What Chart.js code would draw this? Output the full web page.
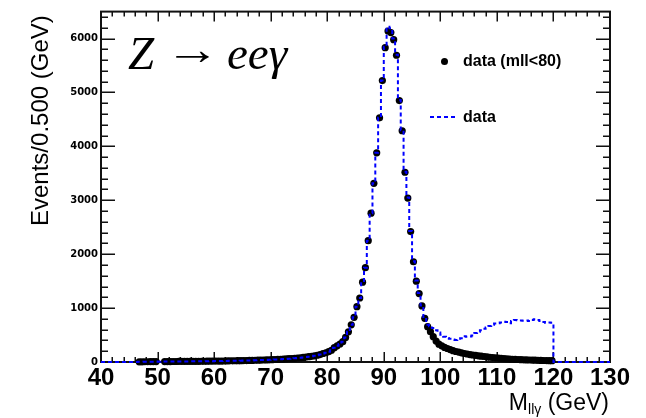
<!DOCTYPE html>
<html>
<head>
<meta charset="utf-8">
<script src="https://cdn.jsdelivr.net/npm/chart.js@4.4.1/dist/chart.umd.min.js"></script>
<style>
  html, body { margin: 0; padding: 0; background: #fff; }
  #wrap { position: relative; width: 646px; height: 418px; overflow: hidden; background: #fff; }
  #c { position: absolute; left: 0; top: 0; }
  .lbl { position: absolute; white-space: nowrap; color: #000; font-family: "Liberation Sans", Arial, sans-serif; }
  #ytitle { left: 28px; top: 226px; font-size: 24px; line-height: 24px; transform-origin: 0 0; transform: rotate(-90deg); }
  #xtitle { right: 37px; top: 391px; font-size: 23px; line-height: 22px; }
  #xtitle sub { font-size: 14px; line-height: 0; vertical-align: -4px; }
  .proc { position: absolute; top: 31px; font-family: "Liberation Serif", "DejaVu Serif", serif; font-size: 47px; line-height: 44px; color: #000; white-space: nowrap; }
  .proc.it { font-style: italic; }
  .proc.arr { font-size: 44px; top: 28px; transform-origin: 0 50%; transform: scaleX(1.25); }
  .legtxt { font-size: 16px; line-height: 16px; font-weight: bold; }
  #legdot { position: absolute; left: 440.5px; top: 57.5px; width: 7px; height: 7px; border-radius: 50%; background: #000; }
  #legline { position: absolute; left: 430px; top: 116px; width: 27px; height: 2px;
             background: repeating-linear-gradient(90deg, #0000ff 0 4px, transparent 4px 7px); }
</style>
</head>
<body>
<div id="wrap">
  <canvas id="c" width="646" height="418"></canvas>
  <div class="lbl" id="ytitle">Events/0.500 (GeV)</div>
  <div class="lbl" id="xtitle">M<sub>llγ</sub> (GeV)</div>
  <div class="proc it" style="left:128px;">Z</div>
  <div class="proc arr" style="left:165px;">→</div>
  <div class="proc it" style="left:227px;">eeγ</div>
  <div id="legdot"></div>
  <div class="lbl legtxt" style="left:463px; top:53px;">data (mll&lt;80)</div>
  <div id="legline"></div>
  <div class="lbl legtxt" style="left:463px; top:109px;">data</div>
</div>
<script>
// Histogram binning: 0.5 GeV bins from 40 to 130 GeV
const massMin = 40;
const massMax = 130;
const binWidth = 0.5;

// Events per bin, selection with m_ll < 80 GeV (null = empty bin, not drawn)
const eventsMll80 = [
  // 40.0 - 46.5
  null, null, null, null, null, null, null, null, null, null, null, null, null,
  // 46.5 - 50.0
  4, 4, 5, 5, 6, 6, 7,
  // 50.0 - 51.0
  null, null,
  // 51 - 60
  7, 8, 8, 9, 9, 10, 10, 11, 11, 12, 12, 13, 13, 14, 14, 15, 16, 16,
  // 60 - 70
  17, 18, 18, 19, 20, 21, 22, 23, 24, 25, 26, 27, 29, 30, 32, 33, 35, 37, 39, 41,
  // 70 - 80
  43, 46, 48, 51, 54, 57, 61, 65, 69, 74, 79, 85, 91, 98, 106, 115, 125, 137, 158, 172,
  // 80 - 90
  192, 218, 265, 300, 334, 377, 455, 560, 690, 829, 1026, 1187, 1480, 1750, 2250, 2760, 3315, 3880, 4530, 5220,
  // 90 - 100
  5830, 6140, 6110, 5980, 5690, 4850, 4290, 3520, 3040, 2420, 1860, 1500, 1270, 1040, 811, 655, 562, 470, 390, 330,
  // 100 - 110
  300, 270, 250, 230, 210, 195, 185, 170, 158, 148, 138, 130, 122, 115, 108, 102, 95, 88, 82, 77,
  // 110 - 120
  72, 67, 63, 59, 55, 51, 48, 46, 43, 41, 39, 37, 35, 33, 31, 30, 28, 27, 25, 24,
  // 120 - 130
  null, null, null, null, null, null, null, null, null, null,
  null, null, null, null, null, null, null, null, null, null
];

// Events per bin, full selection
const eventsAll = [
  // 40.0 - 46.5
  0, 0, 0, 0, 0, 0, 0, 0, 0, 0, 0, 0, 0,
  // 46.5 - 50.0
  4, 4, 5, 5, 6, 6, 7,
  // 50.0 - 51.0
  6, 7,
  // 51 - 60
  7, 8, 8, 9, 9, 10, 10, 11, 11, 12, 12, 13, 13, 14, 14, 15, 16, 16,
  // 60 - 70
  17, 18, 18, 19, 20, 21, 22, 23, 24, 25, 26, 27, 29, 30, 32, 33, 35, 37, 39, 41,
  // 70 - 80
  43, 46, 48, 51, 54, 57, 61, 65, 69, 74, 79, 85, 91, 98, 106, 115, 125, 137, 158, 172,
  // 80 - 90
  192, 218, 265, 300, 334, 377, 455, 560, 690, 829, 1026, 1187, 1480, 1750, 2250, 2760, 3315, 3880, 4530, 5220,
  // 90 - 100
  5850, 6220, 6190, 6000, 5700, 4860, 4300, 3530, 3050, 2430, 1870, 1510, 1280, 1050, 815, 690, 665, 630, 590, 545,
  // 100 - 110
  505, 470, 445, 430, 418, 410, 412, 440, 478, 470, 474, 490, 540, 560, 590, 615, 642, 668, 690, 712,
  // 110 - 120
  720, 735, 748, 742, 718, 760, 779, 775, 770, 766, 770, 760, 780, 792, 780, 760, 740, 729, 735, 729,
  // 120 - 130
  0, 0, 0, 0, 0, 0, 0, 0, 0, 0,
  0, 0, 0, 0, 0, 0, 0, 0, 0, 0
];

// Axis ticks
const xMajorTicks = [40, 50, 60, 70, 80, 90, 100, 110, 120, 130];
const xMinorStep = 2;
const yMajorTicks = [0, 1000, 2000, 3000, 4000, 5000, 6000];
const yMinorStep = 200;
const yMax = 6500;

// Points for the step outline: one point per lower bin edge plus the closing edge
const stepPoints = eventsAll.map((v, i) => ({ x: massMin + i * binWidth, y: v }));
stepPoints.push({ x: massMax, y: eventsAll[eventsAll.length - 1] });

// Markers at bin centres
const markerPoints = [];
eventsMll80.forEach((v, i) => {
  if (v !== null) markerPoints.push({ x: massMin + (i + 0.5) * binWidth, y: v });
});

// Frame with inward ticks on all four sides, drawn beneath the data
const framePlugin = {
  id: 'frame',
  beforeDatasetsDraw(chart) {
    const { ctx, chartArea: a, scales: { x, y } } = chart;
    ctx.save();
    ctx.strokeStyle = '#111';
    ctx.lineWidth = 1.5;
    ctx.beginPath();
    for (let v = massMin; v <= massMax; v += xMinorStep) {
      const px = Math.round(x.getPixelForValue(v)) + 0.25;
      const len = xMajorTicks.includes(v) ? 10 : 5;
      ctx.moveTo(px, a.bottom); ctx.lineTo(px, a.bottom - len);
      ctx.moveTo(px, a.top); ctx.lineTo(px, a.top + len);
    }
    for (let v = 0; v <= yMax; v += yMinorStep) {
      const py = Math.round(y.getPixelForValue(v)) + 0.25;
      const len = yMajorTicks.includes(v) ? 14 : 7;
      ctx.moveTo(a.left, py); ctx.lineTo(a.left + len, py);
      ctx.moveTo(a.right, py); ctx.lineTo(a.right - len, py);
    }
    ctx.stroke();
    ctx.lineWidth = 2;
    ctx.strokeStyle = '#111';
    ctx.strokeRect(a.left, a.top, a.right - a.left, a.bottom - a.top);
    ctx.restore();
  }
};

new Chart(document.getElementById('c'), {
  type: 'scatter',
  data: {
    datasets: [
      {
        label: 'data',
        data: stepPoints,
        showLine: true,
        stepped: 'before',
        borderColor: '#0000ff',
        borderWidth: 2,
        borderDash: [4, 3],
        pointRadius: 0,
        fill: false,
        clip: 2,
        order: 0
      },
      {
        label: 'data (mll<80)',
        data: markerPoints,
        showLine: false,
        pointRadius: 3.6,
        pointBackgroundColor: '#000',
        pointBorderWidth: 0,
        clip: false,
        order: 1
      }
    ]
  },
  options: {
    responsive: false,
    animation: false,
    devicePixelRatio: 1,
    layout: { padding: { top: 11.6, right: 36, left: 0, bottom: 0 } },
    plugins: { legend: { display: false }, tooltip: { enabled: false } },
    events: [],
    scales: {
      x: {
        type: 'linear',
        min: massMin,
        max: massMax,
        afterBuildTicks(s) { s.ticks = xMajorTicks.map(v => ({ value: v })); },
        ticks: {
          color: '#000',
          font: { family: 'Liberation Sans', weight: 'bold', size: 24 },
          padding: 2,
          maxRotation: 0,
          autoSkip: false,
          callback: v => String(v)
        },
        grid: { display: false, drawTicks: false },
        border: { display: false },
        afterFit(s) { s.height = 56; }
      },
      y: {
        min: 0,
        max: yMax,
        afterBuildTicks(s) { s.ticks = yMajorTicks.map(v => ({ value: v })); },
        ticks: {
          color: '#000',
          font: { family: 'DejaVu Sans', weight: 'bold', size: 10 },
          padding: 3,
          callback: v => String(v)
        },
        grid: { display: false, drawTicks: false },
        border: { display: false },
        afterFit(s) { s.width = 101; }
      }
    }
  },
  plugins: [framePlugin]
});
</script>
</body>
</html>
